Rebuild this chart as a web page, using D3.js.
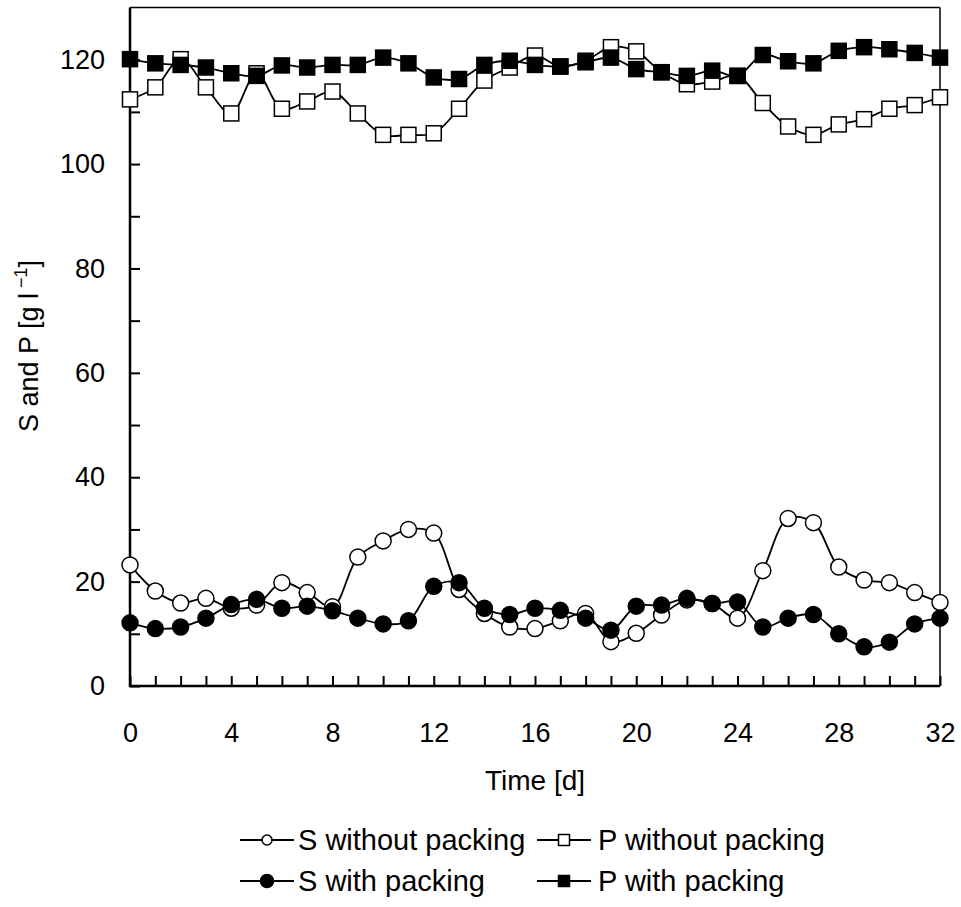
<!DOCTYPE html>
<html>
<head>
<meta charset="utf-8">
<script src="https://cdn.jsdelivr.net/npm/d3@7"></script>
<style>
  body { margin: 0; background: #fff; }
  svg text { font-family: "Liberation Sans", Arial, sans-serif; fill: #000; }
</style>
</head>
<body>
<div id="chart"></div>
<script>
// time axis (days)
var days = d3.range(0, 33);
// substrate / product concentrations [g/l]
var sWithout = [23.2, 18.2, 15.9, 16.8, 14.9, 15.5, 19.8, 17.9, 15.2, 24.7, 27.8, 30.0, 29.3, 18.5, 13.9, 11.3,
                11.0, 12.5, 13.9, 8.5, 10.1, 13.6, 16.5, 15.8, 13.0, 22.1, 32.1, 31.3, 22.8, 20.3, 19.8, 17.9, 16.0];
var pWithout = [112.4, 114.7, 120.1, 114.7, 109.7, 117.4, 110.6, 112.0, 113.9, 109.7, 105.6, 105.6, 105.9, 110.6, 116.0, 118.5,
                120.8, 118.7, 119.8, 122.4, 121.6, 117.6, 115.3, 115.8, 116.9, 111.7, 107.2, 105.6, 107.6, 108.6, 110.6, 111.3, 112.8];
var sWith = [12.1, 11.0, 11.3, 13.0, 15.6, 16.6, 14.9, 15.3, 14.4, 13.0, 11.9, 12.5, 19.1, 19.8, 14.9, 13.7,
             14.9, 14.5, 13.0, 10.7, 15.3, 15.5, 16.8, 15.8, 16.1, 11.3, 13.0, 13.7, 10.0, 7.5, 8.4, 11.9, 13.0];
var pWith = [120.1, 119.3, 119.0, 118.5, 117.4, 116.9, 118.9, 118.5, 119.0, 119.0, 120.4, 119.3, 116.6, 116.3, 119.0, 119.8,
             119.0, 118.7, 119.5, 120.4, 118.2, 117.6, 116.9, 117.9, 116.9, 120.9, 119.7, 119.3, 121.7, 122.4, 122.0, 121.3, 120.4];

var seriesNames = ["S without packing", "P without packing", "S with packing", "P with packing"];
var yTickLabels = [0, 20, 40, 60, 80, 100, 120];
var xTickLabels = [0, 4, 8, 12, 16, 20, 24, 28, 32];

var series = [
  {name: seriesNames[0], values: sWithout, shape: "circle", filled: false},
  {name: seriesNames[1], values: pWithout, shape: "square", filled: false},
  {name: seriesNames[2], values: sWith, shape: "circle", filled: true},
  {name: seriesNames[3], values: pWith, shape: "square", filled: true}
];

var width = 961, height = 907;
var plotL = 130, plotR = 940, plotT = 7.5, plotB = 686;

var svg = d3.select("#chart").append("svg")
  .attr("width", width).attr("height", height);

var x = d3.scaleLinear().domain([0, 32]).range([plotL, plotR]);
var y = d3.scaleLinear().domain([0, 130]).range([plotB, plotT]);

// axes, ticks pointing inwards
var xAxis = d3.axisBottom(x).tickValues(days).tickSizeInner(-10).tickSizeOuter(0).tickPadding(37)
  .tickFormat(function(d) { return xTickLabels.indexOf(d) >= 0 ? d : ""; });
var yAxis = d3.axisLeft(y).tickValues(d3.range(0, 130, 10)).tickSizeInner(-10).tickSizeOuter(0).tickPadding(25)
  .tickFormat(function(d) { return yTickLabels.indexOf(d) >= 0 ? d : ""; });

var gx = svg.append("g").attr("transform", "translate(0," + plotB + ")").call(xAxis);
var gy = svg.append("g").attr("transform", "translate(" + plotL + ",0)").call(yAxis);
[gx, gy].forEach(function(g) {
  g.select(".domain").remove();
  g.selectAll(".tick line").attr("stroke", "#000").attr("stroke-width", 2);
  g.selectAll(".tick text").attr("font-size", 27).attr("font-family", "Liberation Sans, Arial, sans-serif");
});

// frame
svg.append("line").attr("x1", plotL).attr("x2", plotR).attr("y1", plotT).attr("y2", plotT)
  .attr("stroke", "#000").attr("stroke-width", 1.5);
svg.append("line").attr("x1", plotR).attr("x2", plotR).attr("y1", plotT).attr("y2", plotB)
  .attr("stroke", "#000").attr("stroke-width", 1.5);
svg.append("line").attr("x1", plotL).attr("x2", plotL).attr("y1", plotT).attr("y2", plotB + 1)
  .attr("stroke", "#000").attr("stroke-width", 2.5);
svg.append("line").attr("x1", plotL - 1).attr("x2", plotR).attr("y1", plotB).attr("y2", plotB)
  .attr("stroke", "#000").attr("stroke-width", 2.5);

// axis titles
svg.append("text").attr("x", (plotL + plotR) / 2).attr("y", 790)
  .attr("text-anchor", "middle").attr("font-size", 28).text("Time [d]");

var yt = svg.append("text").attr("transform", "translate(38,346) rotate(-90)")
  .attr("text-anchor", "middle").attr("font-size", 27);
yt.append("tspan").text("S and P [g l");
yt.append("tspan").attr("font-size", 18).attr("dy", -11).text(" \u22121");
yt.append("tspan").attr("dy", 11).text("]");

// series
var line = d3.line()
  .x(function(d, i) { return x(days[i]); })
  .y(function(d) { return y(d); })
  .curve(d3.curveCatmullRom.alpha(0.5));

function marker(g, shape, filled, cx, cy, size) {
  if (shape === "circle") {
    g.append("circle").attr("cx", cx).attr("cy", cy).attr("r", size / 2)
      .attr("fill", filled ? "#000" : "#fff").attr("stroke", "#000").attr("stroke-width", 1.5);
  } else {
    g.append("rect").attr("x", cx - size / 2).attr("y", cy - size / 2)
      .attr("width", size).attr("height", size)
      .attr("fill", filled ? "#000" : "#fff").attr("stroke", "#000").attr("stroke-width", 1.5);
  }
}

series.forEach(function(s) {
  var g = svg.append("g");
  g.append("path").attr("d", line(s.values))
    .attr("fill", "none").attr("stroke", "#000").attr("stroke-width", 1.8);
  s.values.forEach(function(v, i) {
    marker(g, s.shape, s.filled, x(days[i]), y(v), s.shape === "circle" ? 16 : 15);
  });
});

// legend
var legendPos = [
  {sx: 240, tx: 298, y: 840},
  {sx: 537, tx: 598, y: 840},
  {sx: 240, tx: 298, y: 881},
  {sx: 537, tx: 598, y: 881}
];
series.forEach(function(s, i) {
  var p = legendPos[i];
  var g = svg.append("g");
  g.append("line").attr("x1", p.sx).attr("x2", p.sx + 54).attr("y1", p.y).attr("y2", p.y)
    .attr("stroke", "#000").attr("stroke-width", 1.8);
  marker(g, s.shape, s.filled, p.sx + 27, p.y, s.shape === "circle" ? (s.filled ? 13 : 10) : 11);
  g.append("text").attr("x", p.tx).attr("y", p.y + 10).attr("font-size", 29).text(s.name);
});
</script>
</body>
</html>
